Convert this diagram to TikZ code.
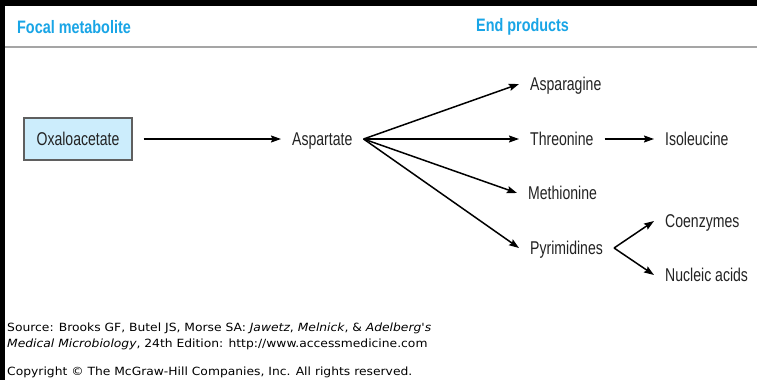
\documentclass[tikz,border=0pt]{standalone}
\usepackage{fontspec}
\setmainfont{Liberation Sans}
\newfontfamily\labelfont[FakeStretch=0.76]{Liberation Sans}
\newfontfamily\headfont[FakeStretch=0.8]{Liberation Sans}
\newfontfamily\notefont[FakeStretch=1.09]{DejaVu Sans}
\usetikzlibrary{arrows.meta}

\definecolor{headblue}{RGB}{25,165,230}
\definecolor{boxfill}{RGB}{204,237,252}
\definecolor{boxline}{RGB}{95,95,95}
\definecolor{labelgray}{RGB}{35,35,35}
\definecolor{rulegray}{RGB}{165,165,165}

\tikzset{
  header/.style={anchor=west, inner sep=0pt, text=headblue,
    font=\headfont\fontsize{18}{18}\selectfont\bfseries},
  metab/.style={inner xsep=11pt, inner ysep=0pt, text height=13pt, text depth=0pt,
    text=labelgray, font=\labelfont\fontsize{18.5}{18.5}\selectfont},
  product/.style={metab, anchor=west},
  focalbox/.style={metab, draw=boxline, line width=1.1pt, fill=boxfill,
    minimum width=108pt, minimum height=42pt, inner xsep=0pt},
  flow/.style={-{Stealth[length=10pt,width=7pt,inset=1.5pt]}, line width=1.5pt, black},
  note/.style={anchor=base west, inner sep=0pt, text=black,
    font=\notefont\fontsize{11.3}{13}\selectfont},
}

\begin{document}
\begin{tikzpicture}[x=1pt, y=-1pt]
  \useasboundingbox (0,0) rectangle (757,380);
  \fill[white] (0,0) rectangle (757,380);

  % frame strips and header rule
  \fill[black] (0,0) rectangle (757,5.5);
  \fill[black] (0,0) rectangle (5,380);
  \draw[rulegray, line width=2pt] (5,47) -- (757,47);

  % column headings
  \node[header] (hfocal) at (17,27) {Focal metabolite};
  \node[header] (hend) at (476,27) {End products};

  % metabolites
  \node[focalbox] (oxa) at (78,139) {Oxaloacetate};
  \node[product] (asp) at (281,139) {Aspartate};
  \node[product] (asn) at (519,84) {Asparagine};
  \node[product] (thr) at (519,139) {Threonine};
  \node[product] (met) at (517,193) {Methionine};
  \node[product] (pyr) at (519,248) {Pyrimidines};
  \node[product] (ile) at (654,139) {Isoleucine};
  \node[product] (coe) at (654,221) {Coenzymes};
  \node[product] (nuc) at (654,275) {Nucleic acids};

  % pathways
  \draw[flow, shorten <=11pt] (oxa.east) -- (asp.west);
  \draw[flow] (asp.east) -- (asn.west);
  \draw[flow] (asp.east) -- (thr.west);
  \draw[flow] (asp.east) -- (met.west);
  \draw[flow] (asp.east) -- (pyr.west);
  \draw[flow] (thr.east) -- (ile.west);
  \draw[flow] (pyr.east) -- (coe.west);
  \draw[flow] (pyr.east) -- (nuc.west);

  % source and copyright notes
  \node[note] (src1) at (7,331) {Source: Brooks GF, Butel JS, Morse SA: \textit{Jawetz}, \textit{Melnick}, \& \textit{Adelberg's}};
  \node[note] (src2) at (7,347) {\textit{Medical Microbiology}, 24th Edition: http://www.accessmedicine.com};
  \node[note] (copy) at (7,375) {Copyright \textcopyright{} The McGraw-Hill Companies, Inc. All rights reserved.};
\end{tikzpicture}
\end{document}
